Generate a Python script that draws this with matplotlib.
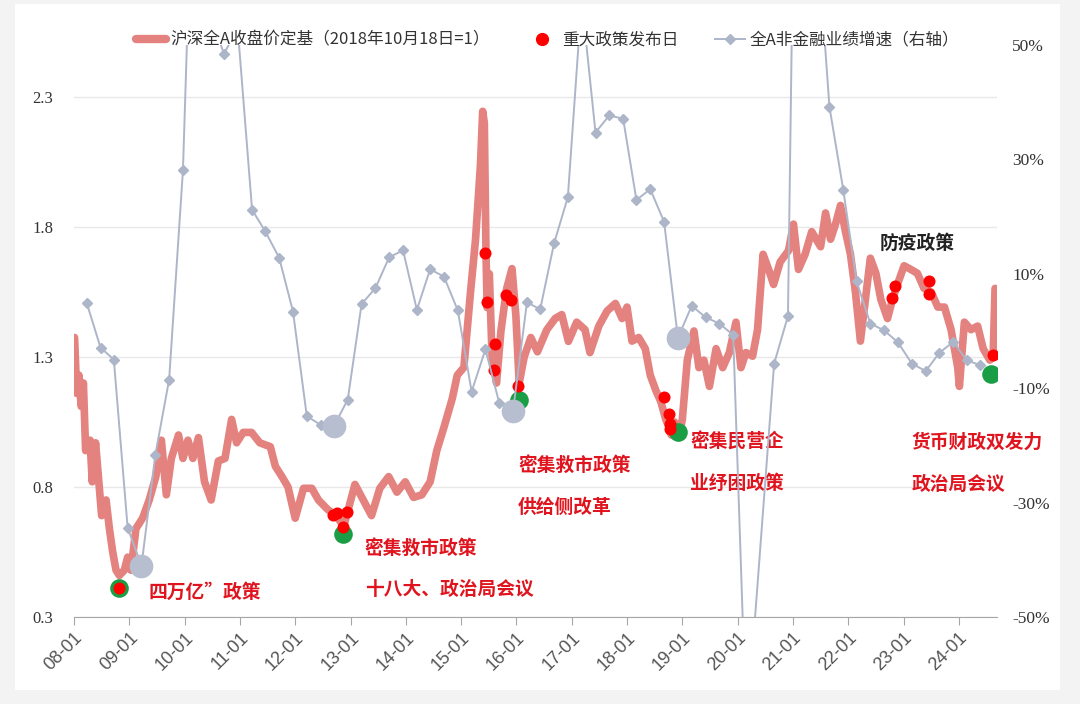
import matplotlib
matplotlib.use('Agg')
import matplotlib.pyplot as plt
from matplotlib.patches import Rectangle
from matplotlib.lines import Line2D

CJK = ['Noto Sans CJK SC', 'DejaVu Sans']
plt.rcParams['font.family'] = CJK
plt.rcParams['axes.unicode_minus'] = False

# 沪深全A收盘价定基 (2018-10-18 = 1), x = 小数年份
idx_t = [2008.01, 2008.05, 2008.09, 2008.13, 2008.17, 2008.21, 2008.29, 2008.33, 2008.39, 2008.45,
         2008.50, 2008.58, 2008.64, 2008.70, 2008.76, 2008.82, 2008.91, 2008.97, 2009.03, 2009.12,
         2009.24, 2009.36, 2009.48, 2009.58, 2009.67, 2009.76, 2009.89, 2009.97, 2010.06, 2010.15,
         2010.25, 2010.36, 2010.48, 2010.61, 2010.73, 2010.85, 2010.94, 2011.06, 2011.21, 2011.36,
         2011.55, 2011.64, 2011.76, 2011.87, 2012.00, 2012.15, 2012.30, 2012.42, 2012.58, 2012.73,
         2012.88, 2013.08, 2013.23, 2013.38, 2013.53, 2013.69, 2013.84, 2013.99, 2014.14, 2014.29,
         2014.44, 2014.56, 2014.69, 2014.84, 2014.93, 2015.05, 2015.17, 2015.26, 2015.35, 2015.39,
         2015.42, 2015.45, 2015.47, 2015.51, 2015.56, 2015.64, 2015.72, 2015.82, 2015.92, 2015.99,
         2016.05, 2016.14, 2016.26, 2016.38, 2016.55, 2016.70, 2016.82, 2016.94, 2017.09, 2017.24,
         2017.33, 2017.49, 2017.64, 2017.79, 2017.91, 2018.00, 2018.09, 2018.21, 2018.33, 2018.42,
         2018.52, 2018.61, 2018.70, 2018.76, 2018.80, 2018.86, 2018.94, 2019.00, 2019.09, 2019.21,
         2019.30, 2019.39, 2019.49, 2019.61, 2019.73, 2019.85, 2019.97, 2020.06, 2020.15, 2020.27,
         2020.36, 2020.46, 2020.56, 2020.65, 2020.77, 2020.92, 2021.01, 2021.10, 2021.22, 2021.34,
         2021.50, 2021.59, 2021.68, 2021.77, 2021.86, 2021.95, 2022.04, 2022.13, 2022.22, 2022.31,
         2022.40, 2022.50, 2022.59, 2022.71, 2022.80, 2022.89, 2023.01, 2023.13, 2023.25, 2023.37,
         2023.50, 2023.62, 2023.74, 2023.86, 2023.98, 2024.01, 2024.10, 2024.22, 2024.34, 2024.44,
         2024.56, 2024.62, 2024.655]
idx_v = [1.375, 1.16, 1.23, 1.11, 1.20, 0.94, 0.98, 0.82, 0.97, 0.82,
         0.69, 0.75, 0.64, 0.55, 0.48, 0.46, 0.48, 0.53, 0.48, 0.64,
         0.68, 0.75, 0.84, 0.98, 0.77, 0.91, 1.00, 0.91, 0.98, 0.91,
         0.99, 0.82, 0.75, 0.90, 0.91, 1.06, 0.97, 1.01, 1.01, 0.97,
         0.955, 0.88, 0.84, 0.80, 0.68, 0.795, 0.795, 0.75, 0.715, 0.69,
         0.65, 0.81, 0.75, 0.69, 0.795, 0.84, 0.78, 0.82, 0.76, 0.77,
         0.82, 0.94, 1.03, 1.14, 1.23, 1.26, 1.55, 1.75, 2.04, 2.245,
         2.20, 1.70, 1.49, 1.62, 1.30, 1.20, 1.40, 1.56, 1.64, 1.46,
         1.20, 1.30, 1.375, 1.32, 1.405, 1.448, 1.463, 1.36, 1.434, 1.405,
         1.317, 1.419, 1.477, 1.506, 1.448, 1.492, 1.361, 1.375, 1.332, 1.23,
         1.172, 1.129, 1.06, 1.03, 1.00, 1.05, 0.99, 1.06, 1.288, 1.40,
         1.259, 1.288, 1.187, 1.332, 1.259, 1.317, 1.434, 1.259, 1.317, 1.303,
         1.405, 1.695, 1.637, 1.579, 1.666, 1.709, 1.811, 1.637, 1.695, 1.782,
         1.724, 1.854, 1.753, 1.811, 1.883, 1.782, 1.695, 1.55, 1.361, 1.521,
         1.68, 1.622, 1.521, 1.448, 1.521, 1.579, 1.651, 1.637, 1.622, 1.564,
         1.55, 1.492, 1.492, 1.405, 1.259, 1.187, 1.434, 1.405, 1.419, 1.332,
         1.288, 1.30, 1.564]

# 重大政策发布日
pol_t = [2008.82, 2012.69, 2012.75, 2012.93, 2012.86, 2015.44, 2015.47, 2015.61, 2015.59,
         2015.82, 2015.90, 2016.02, 2018.67, 2018.76, 2018.78, 2018.78, 2022.79, 2022.85,
         2023.46, 2023.46, 2024.62]
pol_v = [0.41, 0.693, 0.70, 0.705, 0.647, 1.699, 1.51, 1.35, 1.25,
         1.54, 1.52, 1.187, 1.146, 1.082, 1.042, 1.024, 1.528, 1.574,
         1.593, 1.542, 1.306]

# 市场底部 (绿色圆点)
bot_t = [2008.82, 2012.86, 2016.05, 2018.92, 2024.58]
bot_v = [0.41, 0.62, 1.136, 1.01, 1.233]

# 全A非金融业绩增速 (%), 季度
gr_t = [2008.23, 2008.48, 2008.72, 2008.97, 2009.22, 2009.47, 2009.72, 2009.97, 2010.22, 2010.46,
        2010.71, 2010.96, 2011.22, 2011.46, 2011.71, 2011.96, 2012.21, 2012.46, 2012.70, 2012.95,
        2013.20, 2013.45, 2013.70, 2013.95, 2014.20, 2014.44, 2014.69, 2014.94, 2015.19, 2015.44,
        2015.69, 2015.94, 2016.19, 2016.43, 2016.68, 2016.93, 2017.18, 2017.43, 2017.68, 2017.93,
        2018.17, 2018.42, 2018.67, 2018.92, 2019.17, 2019.42, 2019.67, 2019.92, 2020.16, 2020.66,
        2020.91, 2021.16, 2021.41, 2021.66, 2021.91, 2022.15, 2022.40, 2022.65, 2022.90, 2023.15,
        2023.40, 2023.65, 2023.90, 2024.14, 2024.39]
gr_v = [4.9, -2.9, -5.0, -34.4, -41.0, -21.7, -8.5, 28.1, 105.0, 56.0,
        48.4, 53.0, 21.2, 17.4, 12.8, 3.4, -14.9, -16.4, -16.6, -12.0,
        4.7, 7.5, 12.9, 14.1, 3.7, 10.8, 9.5, 3.6, -10.6, -3.2,
        -12.6, -13.9, 5.0, 3.8, 15.3, 23.4, 58.0, 34.7, 37.7, 37.1,
        22.9, 24.8, 19.1, -1.2, 4.4, 2.4, 1.3, -0.7, -70.0, -5.7,
        2.6, 180.0, 73.0, 39.2, 24.7, 8.7, 1.3, 0.1, -2.0, -5.7,
        -7.0, -3.8, -1.9, -5.1, -6.0]

# 业绩底部 (灰色大圆)
gbot_t = [2009.22, 2012.70, 2015.94, 2018.92]
gbot_v = [-41.0, -16.6, -13.9, -1.2]

years = list(range(2008, 2025))
xlabels = [f'{y % 100:02d}-01' for y in years]
left_ticks = [0.3, 0.8, 1.3, 1.8, 2.3]
right_ticks = [-50, -30, -10, 10, 30, 50]

notes = [
    (2009.34, 0.396, '四万亿”政策', '#e0141e'),
    (2013.26, 0.565, '密集救市政策', '#e0141e'),
    (2013.26, 0.404, '十八大、政治局会议', '#e0141e'),
    (2016.03, 0.885, '密集救市政策', '#e0141e'),
    (2016.03, 0.723, '供给侧改革', '#e0141e'),
    (2019.14, 0.973, '密集民营企', '#e0141e'),
    (2019.14, 0.812, '业纾困政策', '#e0141e'),
    (2022.57, 1.735, '防疫政策', '#222222'),
    (2023.15, 0.973, '货币财政双发力', '#e0141e'),
    (2023.15, 0.808, '政治局会议', '#e0141e'),
]

RED_LINE = '#e3827f'
GRAY = '#adb5c9'

fig = plt.figure(figsize=(10.8, 7.04), dpi=100)
fig.patch.set_facecolor('#f3f3f3')
fig.add_artist(Rectangle((15 / 1080, 14 / 704), 1045 / 1080, 686 / 704,
                         transform=fig.transFigure, facecolor='white',
                         edgecolor='none', zorder=0))

ax = fig.add_axes([74 / 1080, 87 / 704, 923 / 1080, 572 / 704])
ax.set_facecolor('white')
ax.plot(idx_t, idx_v, color=RED_LINE, lw=5.5, solid_joinstyle='round',
        solid_capstyle='round', zorder=2)
ax.scatter(bot_t, bot_v, s=180, color='#1a9e45', zorder=3, linewidths=0)
ax.scatter(pol_t, pol_v, s=75, color='#ff0000', zorder=4, linewidths=0)

ax.set_xlim(2008.0, 2024.69)
ax.set_ylim(0.3, 2.5)
ax.set_xticks(years)
ax.set_xticklabels(xlabels, rotation=45, ha='right', rotation_mode='anchor',
                   fontsize=13, color='#555555',
                   family=['Liberation Sans Narrow', 'Liberation Sans', 'DejaVu Sans'])
ax.set_yticks(left_ticks)
ax.set_yticklabels([f'{v:.1f}' for v in left_ticks], fontsize=12, color='#333333',
                   family=['Liberation Serif', 'DejaVu Serif'])
ax.tick_params(axis='x', length=6, color='#a6a6a6', pad=3)
ax.tick_params(axis='y', length=0, pad=15)
ax.grid(axis='y', color='#e8e8e8', lw=1)
ax.set_axisbelow(True)
for s in ['left', 'right', 'top']:
    ax.spines[s].set_visible(False)
ax.spines['bottom'].set_color('#a6a6a6')

ax2 = ax.twinx()
ax2.plot(gr_t, gr_v, color=GRAY, lw=1.4, marker='D', ms=5,
         markerfacecolor=GRAY, markeredgecolor=GRAY, zorder=3)
ax2.scatter(gbot_t, gbot_v, s=290, color='#b6bed0', zorder=5, linewidths=0)
ax2.set_ylim(-50, 50)
ax2.set_yticks(right_ticks)
ax2.set_yticklabels([f'{v}%' for v in right_ticks], fontsize=12.5, color='#333333',
                    family=['Liberation Serif', 'DejaVu Serif'])
ax2.tick_params(axis='y', length=0, pad=11)
for s in ax2.spines.values():
    s.set_visible(False)

for x, y, txt, c in notes:
    ax.text(x, y, txt, color=c, fontsize=13.5, fontweight='bold',
            ha='left', va='center', zorder=6)

h1 = Line2D([], [], color=RED_LINE, lw=6, solid_capstyle='round')
h2 = Line2D([], [], color='#ff0000', marker='o', ls='none', ms=8.5)
h3 = Line2D([], [], color=GRAY, lw=1.4, marker='D', ms=5)
fig.legend([h1, h2, h3],
           ['沪深全A收盘价定基（2018年10月18日=1）', '重大政策发布日', '全A非金融业绩增速（右轴）'],
           loc='center', bbox_to_anchor=(0.507, 0.943), ncol=3, frameon=False,
           fontsize=12, handlelength=1.8, handletextpad=0.3, columnspacing=2.2,
           labelcolor='#333333')

fig.savefig('out.png', dpi=100, facecolor=fig.get_facecolor())
